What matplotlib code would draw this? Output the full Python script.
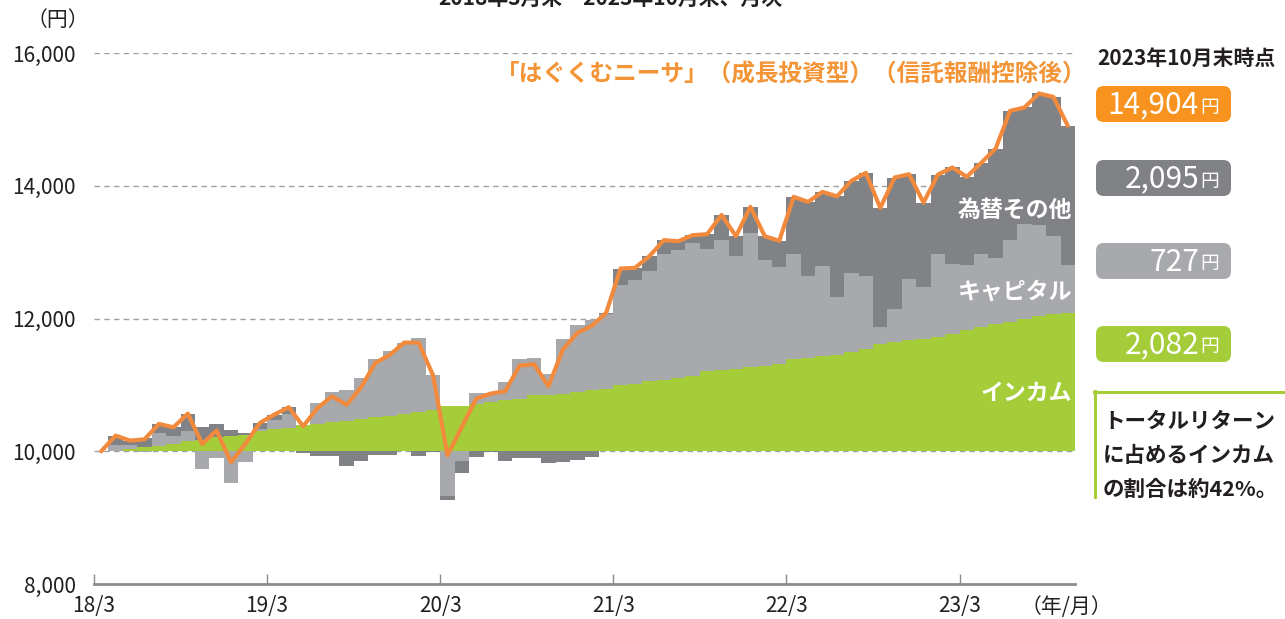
import matplotlib
matplotlib.use('Agg')
import matplotlib.pyplot as plt
import numpy as np
from matplotlib.patches import FancyBboxPatch
from matplotlib.lines import Line2D

plt.rcParams['font.family'] = ['Noto Sans CJK JP', 'DejaVu Sans']

BASE = 10000
# monthly contributions (yen), 2018/3 .. 2023/10
income = [0, 10, 35, 65, 80, 110, 160, 175, 210, 226, 241, 311, 336, 351, 392, 412, 442,
          452, 492, 517, 537, 563, 593, 618, 678, 688, 718, 748, 769, 794, 844, 854, 869,
          894, 919, 944, 1005, 1020, 1055, 1080, 1100, 1140, 1211, 1221, 1246, 1266, 1291,
          1321, 1396, 1411, 1437, 1450, 1497, 1547, 1622, 1648, 1673, 1698, 1723, 1763,
          1833, 1874, 1924, 1949, 1999, 2040, 2070, 2082]
capital = [0, 90, 55, -15, 191, 121, 151, -261, -100, -482, -160, 20, 131, 211, 10, 311, 452,
           467, 618, 874, 975, 1069, 1110, 537, -670, -151, 161, 136, 276, 592, 567, 306, 819,
           1015, 1055, 1120, 1507, 1557, 1662, 1889, 1939, 1999, 1833, 1959, 1693, 2024, 1587,
           1457, 1583, 1226, 1356, 876, 1190, 1090, 252, 492, 919, 778, 1245, 1065,
           970, 1105, 994, 1241, 1422, 1366, 1170, 727]
fx_other = [0, 136, 70, 130, 141, 130, 256, 196, 201, 90, 34, 96, 85, 101, -26, -70, -66,
            -219, -151, -60, -60, 5, -66, -10, -68, -170, -85, -15, -141, -95, -100, -181, -156,
            -126, -85, 21, 241, 186, 222, 211, 125, 116, 226, 380, 301, 392, 362,
            392, 854, 1120, 1115, 1514, 1387, 1557, 1793, 1984, 1582, 1271, 1201, 1447,
            1331, 1366, 1643, 1938, 1758, 1984, 2099, 2095]

tick_index = [0, 12, 24, 36, 48, 60]
tick_labels = ['18/3', '19/3', '20/3', '21/3', '22/3', '23/3']
y_ticks = [8000, 10000, 12000, 14000, 16000]
badge_values = ['14,904', '2,095', '727', '2,082']
series_labels = ['為替その他', 'キャピタル', 'インカム']

GREEN = '#A4CD39'
LIGHT = '#A7A9AC'
DARK = '#808285'
ORANGE_LINE = '#F28A3D'
ORANGE = '#F7931E'
TXT = '#231F20'

n = len(income)
x = np.arange(n)
edges = np.arange(n + 1) - 0.5
inc = np.array(income, dtype=float)
cap = np.array(capital, dtype=float)
fxo = np.array(fx_other, dtype=float)
total = BASE + inc + cap + fxo

W, H = 1285, 619
fig = plt.figure(figsize=(W / 100, H / 100), dpi=100)


def FX(px):
    return px / W


def FY(py):
    return 1 - py / H


ax = fig.add_axes([FX(94), FY(584), (1075 - 94) / W, (584 - 53) / H])
ax.set_xlim(-0.5, n - 0.5)
ax.set_ylim(8000, 16000)

for yv in y_ticks[1:]:
    ax.axhline(yv, color='#A0A0A0', lw=1, ls=(0, (4, 3)), zorder=0)

cap_pos = np.clip(cap, 0, None)
cap_neg = np.clip(cap, None, 0)
fx_pos = np.clip(fxo, 0, None)
fx_neg = np.clip(fxo, None, 0)


def band(bottom, height, c):
    ax.stairs(bottom + height, edges, baseline=bottom, fill=True, color=c,
              linewidth=0, zorder=2)


band(BASE + 0 * inc, inc, GREEN)
band(BASE + inc, cap_pos, LIGHT)
band(BASE + inc + cap_pos, fx_pos, DARK)
band(BASE + 0 * inc, cap_neg, LIGHT)
band(BASE + cap_neg, fx_neg, DARK)

ax.plot(x, total, color=ORANGE_LINE, lw=3, zorder=4, solid_joinstyle='round',
        solid_capstyle='round')

for s in ['top', 'right', 'left']:
    ax.spines[s].set_visible(False)
ax.spines['bottom'].set_color('#8C8C8C')
ax.spines['bottom'].set_linewidth(2)

ax.set_xticks([t - 0.5 for t in tick_index])
ax.set_xticklabels(tick_labels)
ax.tick_params(axis='x', direction='in', length=7, width=1, color='#8C8C8C', pad=8,
               labelsize=15, labelcolor=TXT)
ax.set_yticks(y_ticks)
ax.set_yticklabels([f'{v:,}' for v in y_ticks])
ax.tick_params(axis='y', length=0, pad=13, labelsize=15, labelcolor=TXT)

# in-chart series labels
for lab, py in zip(series_labels, [210, 292, 393]):
    fig.text(FX(1072), FY(py), lab, ha='right', va='center', color='white',
             fontsize=16.5, fontweight='bold')

# texts around
fig.text(FX(58), FY(20), '（円）', ha='center', va='center', fontsize=15, color=TXT)
fig.text(FX(1066), FY(607), '（年/月）', ha='center', va='center', fontsize=15, color=TXT)
fig.text(FX(610), FY(-2), '2018年3月末～2023年10月末、月次', ha='center', va='center',
         fontsize=15, fontweight='bold', color=TXT)
fig.text(FX(1087), FY(75), '「はぐくむニーサ」（成長投資型）（信託報酬控除後）', ha='right',
         va='center', fontsize=17, fontweight='bold', color='#F39436')
fig.text(FX(1097), FY(58), '2023年10月末時点', ha='left', va='center', fontsize=15,
         fontweight='bold', color=TXT)

# badges
badge_colors = [ORANGE, DARK, LIGHT, GREEN]
badge_tops = [86, 160, 243, 326]
for val, col, top in zip(badge_values, badge_colors, badge_tops):
    bh = 36
    p = FancyBboxPatch((FX(1096), FY(top + bh)), (1231 - 1096) / W, bh / H,
                       boxstyle='round,pad=0,rounding_size=0.006',
                       transform=fig.transFigure, facecolor=col, edgecolor='none',
                       mutation_aspect=W / H)
    fig.add_artist(p)
    fig.text(FX(1199), FY(top + bh / 2 + 1), val, ha='right', va='center', fontsize=21.5,
             color='white')
    fig.text(FX(1200), FY(top + bh / 2 + 3), '円', ha='left', va='center', fontsize=13.5,
             color='white')

# green note box
fig.add_artist(Line2D([FX(1095), FX(1095)], [FY(497), FY(391)], transform=fig.transFigure,
                      color=GREEN, lw=2.2))
fig.add_artist(Line2D([FX(1094), FX(1290)], [FY(392), FY(392)], transform=fig.transFigure,
                      color=GREEN, lw=2.2))
for line, py in zip(['トータルリターン', 'に占めるインカム', 'の割合は約42%。'], [421, 456, 489]):
    fig.text(FX(1103), FY(py), line, ha='left', va='center', fontsize=15.5,
             fontweight='bold', color=TXT)

fig.savefig('out.png', dpi=100)
